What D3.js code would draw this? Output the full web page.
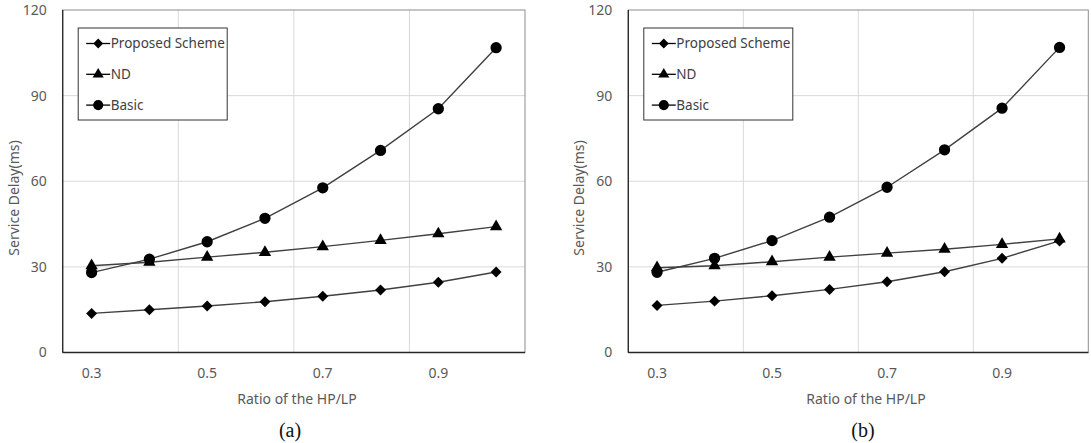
<!DOCTYPE html>
<html>
<head>
<meta charset="utf-8">
<script src="https://cdn.jsdelivr.net/npm/d3@7"></script>
<style>
  body { margin: 0; background: #fff; }
  svg { display: block; }
</style>
</head>
<body>
<div id="container"></div>
<script>
/* DATA */
const ratios = ["0.3", "0.4", "0.5", "0.6", "0.7", "0.8", "0.9", "1.0"];
const xTickLabels = ["0.3", "0.5", "0.7", "0.9"];
const yTicks = [0, 30, 60, 90, 120];
const seriesNames = ["Proposed Scheme", "ND", "Basic"];

// panel (a)
const proposedA = [13.7, 15.0, 16.3, 17.8, 19.7, 21.9, 24.6, 28.2];
const ndA = [30.4, 31.6, 33.4, 35.1, 37.1, 39.3, 41.6, 44.1];
const basicA = [28.0, 32.7, 38.8, 47.0, 57.7, 70.8, 85.4, 106.8];

// panel (b)
const proposedB = [16.5, 18.0, 19.9, 22.1, 24.8, 28.3, 33.0, 39.1];
const ndB = [29.7, 30.4, 31.8, 33.4, 34.8, 36.2, 37.9, 39.8];
const basicB = [28.1, 33.0, 39.2, 47.4, 57.9, 71.0, 85.6, 106.9];

/* CONSTANTS */
const width = 1091, height = 443;
const tickFont = "'Noto Sans', 'DejaVu Sans', sans-serif";

const svg = d3.select("#container")
  .append("svg")
  .attr("width", width)
  .attr("height", height);

// marker shapes, the diamond is a square turned 45 degrees
const markerPath = {
  "Proposed Scheme": d3.symbol().type(d3.symbolSquare).size(60)(),
  "ND": d3.symbol().type(d3.symbolTriangle).size(66)(),
  "Basic": d3.symbol().type(d3.symbolCircle).size(100)()
};
const markerRotate = { "Proposed Scheme": 45, "ND": 0, "Basic": 0 };

function drawPanel(panel) {
  const g = svg.append("g");

  const xScale = d3.scaleBand()
    .domain(ratios)
    .range([panel.left, panel.right])
    .padding(0);

  const yScale = d3.scaleLinear()
    .domain([0, 120])
    .range([panel.bottom, panel.top]);

  const cx = d => xScale(d) + xScale.bandwidth() / 2;

  // gridlines
  g.selectAll(".hgrid")
    .data(yTicks.filter(d => d > 0 && d < 120))
    .join("line")
    .attr("x1", panel.left).attr("x2", panel.right)
    .attr("y1", d => yScale(d)).attr("y2", d => yScale(d))
    .attr("stroke", "#d9d9d9").attr("stroke-width", 1);

  g.selectAll(".vgrid")
    .data([ratios[2], ratios[4], ratios[6]])
    .join("line")
    .attr("x1", d => xScale(d)).attr("x2", d => xScale(d))
    .attr("y1", panel.top).attr("y2", panel.bottom)
    .attr("stroke", "#d9d9d9").attr("stroke-width", 1);

  // plot area border
  g.append("rect")
    .attr("x", panel.left).attr("y", panel.top)
    .attr("width", panel.right - panel.left)
    .attr("height", panel.bottom - panel.top)
    .attr("fill", "none")
    .attr("stroke", "#8c8c8c");

  // axes
  const yAxisGroup = g.append("g")
    .attr("transform", `translate(${panel.left}, 0)`)
    .call(d3.axisLeft(yScale).tickValues(yTicks).tickSize(0).tickPadding(16));
  yAxisGroup.select(".domain").remove();
  yAxisGroup.selectAll("text")
    .attr("font-family", tickFont).attr("font-size", 14).attr("fill", "#595959");

  const xAxisGroup = g.append("g")
    .attr("transform", `translate(0, ${panel.bottom})`)
    .call(d3.axisBottom(xScale).tickValues(xTickLabels).tickSize(0).tickPadding(16));
  xAxisGroup.select(".domain").remove();
  xAxisGroup.selectAll("text")
    .attr("font-family", tickFont).attr("font-size", 14).attr("fill", "#595959");

  g.append("line")
    .attr("x1", panel.left).attr("x2", panel.left)
    .attr("y1", panel.top).attr("y2", panel.bottom)
    .attr("stroke", "#262626").attr("stroke-width", 1.3);
  g.append("line")
    .attr("x1", panel.left).attr("x2", panel.right)
    .attr("y1", panel.bottom).attr("y2", panel.bottom)
    .attr("stroke", "#262626").attr("stroke-width", 1.3);

  // axis titles
  g.append("text")
    .attr("x", panel.xTitleX).attr("y", 404)
    .attr("text-anchor", "middle")
    .attr("font-family", tickFont).attr("font-size", 14).attr("fill", "#595959")
    .text("Ratio of the HP/LP");

  g.append("text")
    .attr("transform", `translate(${panel.yTitleX}, 198) rotate(-90)`)
    .attr("text-anchor", "middle")
    .attr("font-family", tickFont).attr("font-size", 14).attr("fill", "#595959")
    .text("Service Delay(ms)");

  // panel caption
  g.append("text")
    .attr("x", panel.captionX).attr("y", 437)
    .attr("text-anchor", "middle")
    .attr("font-family", "'Liberation Serif', 'DejaVu Serif', serif")
    .attr("font-size", 20).attr("fill", "#111")
    .text(panel.caption);

  // lines and markers
  const lineGen = d3.line()
    .x((d, i) => cx(ratios[i]))
    .y(d => yScale(d));

  const series = seriesNames.map((name, k) => ({ name, values: panel.series[k] }));

  g.selectAll(".line")
    .data(series)
    .join("path")
    .attr("fill", "none")
    .attr("stroke", "#404040")
    .attr("stroke-width", 1.4)
    .attr("d", d => lineGen(d.values));

  series.forEach(s => {
    g.selectAll(null)
      .data(s.values)
      .join("path")
      .attr("d", markerPath[s.name])
      .attr("transform", (d, i) => `translate(${cx(ratios[i])}, ${yScale(d)}) rotate(${markerRotate[s.name]})`)
      .attr("fill", "#000");
  });

  // legend
  const lx = panel.left + 15.5, ly = 28;
  const legend = g.append("g");
  legend.append("rect")
    .attr("x", lx).attr("y", ly)
    .attr("width", 149).attr("height", 92)
    .attr("fill", "#fff")
    .attr("stroke", "#333").attr("stroke-width", 1);

  const rows = legend.selectAll(".row")
    .data(seriesNames)
    .join("g")
    .attr("transform", (d, i) => `translate(${lx}, ${ly + 15.5 + i * 30.8})`);

  rows.append("line")
    .attr("x1", 8).attr("x2", 32)
    .attr("stroke", "#000").attr("stroke-width", 1.3);
  rows.append("path")
    .attr("d", d => markerPath[d])
    .attr("transform", d => `translate(20, 0) rotate(${markerRotate[d]}) scale(0.9)`)
    .attr("fill", "#000");
  rows.append("text")
    .attr("x", 32.5).attr("y", 0)
    .attr("dy", "0.35em")
    .attr("font-family", tickFont).attr("font-size", 13.5).attr("fill", "#404040")
    .text(d => d);
}

drawPanel({
  left: 62.7, right: 525, top: 10, bottom: 352.5,
  xTitleX: 297, yTitleX: 19, captionX: 290, caption: "(a)",
  series: [proposedA, ndA, basicA]
});

drawPanel({
  left: 628.3, right: 1088.3, top: 10, bottom: 352.5,
  xTitleX: 866, yTitleX: 584, captionX: 863, caption: "(b)",
  series: [proposedB, ndB, basicB]
});
</script>
</body>
</html>
